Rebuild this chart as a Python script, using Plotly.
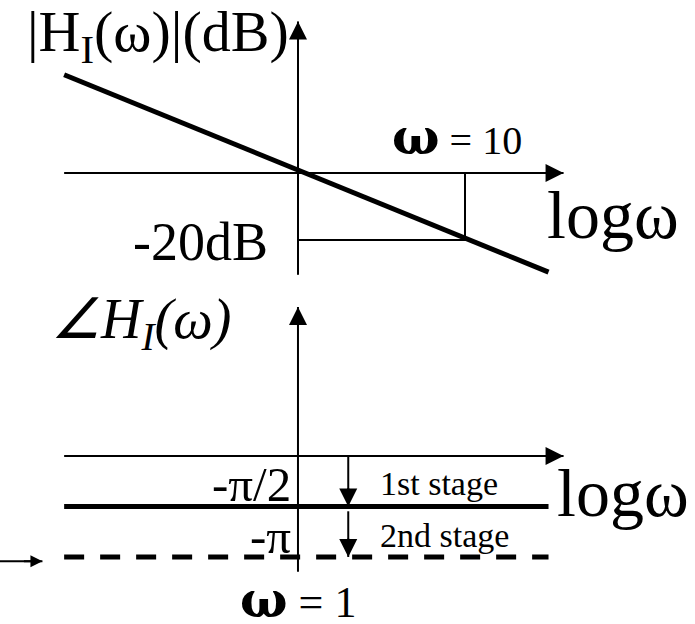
import numpy as np
import plotly.graph_objects as go

# Bode sketch of an ideal integrator H_I(w): log10(w) on the x axis
# top: magnitude in dB, bottom: phase in radians

# magnitude panel
mag_axis_logw = [-1.4, 1.59]        # horizontal axis, tip at the right
mag_axis_db = [-30.4, 45.2]         # vertical axis, tip at the top
mag_logw = [-1.4, 1.5]              # -20 dB/decade asymptote
mag_db = [29.3, -29.6]
box_logw = [0, 1, 1]                # w = 1 .. 10 drop of 20 dB
box_db = [-20, -20, 0]

# phase panel
ph_axis_logw = [-1.4, 1.59]
ph_axis_rad = [-3.6, 4.63]
ph_logw = [-1.4, 1.5]
ph_stage1 = [-np.pi / 2, -np.pi / 2]
ph_stage2 = [-np.pi, -np.pi]
step_logw = [0.301, 0.301]          # w = 2, where the stage arrows sit
step1_rad = [0, -np.pi / 2]
step2_rad = [-np.pi / 2 - 0.15, -np.pi]
side_logw = [-1.79, -1.53]          # little arrow at the left edge
side_rad = [-np.pi - 0.13, -np.pi - 0.13]

FONT = "Liberation Serif, Times New Roman, serif"
OMEGA = "DejaVu Serif"
INK = "black"

fig = go.Figure()


def line(x, y, yaxis="y", width=2, dash=None):
    fig.add_trace(
        go.Scatter(
            x=x,
            y=y,
            yaxis=yaxis,
            mode="lines",
            line=dict(color=INK, width=width, dash=dash),
            hoverinfo="skip",
            showlegend=False,
        )
    )


def head(x, y, yaxis="y", direction="right", size=1.8, width=2):
    # arrow head at the end point (x[-1], y[-1]); the short tail lies on the line itself
    ax, ay = {"right": (-20, 0), "up": (0, 20), "down": (0, -20)}[direction]
    fig.add_annotation(
        x=x[-1],
        y=y[-1],
        xref="x",
        yref=yaxis,
        ax=ax,
        ay=ay,
        text="",
        showarrow=True,
        arrowhead=2,
        arrowsize=size,
        arrowwidth=width,
        arrowcolor=INK,
    )


# ---- magnitude
line(mag_axis_logw, [0, 0])
head(mag_axis_logw, [0, 0])
line([0, 0], mag_axis_db)
head([0, 0], mag_axis_db, direction="up")
line(box_logw, box_db, width=2)
line(mag_logw, mag_db, width=5)

# ---- phase
line(ph_axis_logw, [0, 0], yaxis="y2")
head(ph_axis_logw, [0, 0], yaxis="y2")
line([0, 0], ph_axis_rad, yaxis="y2")
head([0, 0], ph_axis_rad, yaxis="y2", direction="up")
line(ph_logw, ph_stage1, yaxis="y2", width=5)
line(ph_logw, ph_stage2, yaxis="y2", width=5, dash="20px,16px")
line(step_logw, step1_rad, yaxis="y2", width=2)
head(step_logw, step1_rad, yaxis="y2", direction="down")
line(step_logw, step2_rad, yaxis="y2", width=2)
head(step_logw, step2_rad, yaxis="y2", direction="down")
line(side_logw, side_rad, yaxis="y2", width=2)
head(side_logw, side_rad, yaxis="y2", size=1.2)


def label(text, x, y, size, yref="y", xanchor="center", yanchor="middle"):
    fig.add_annotation(
        text=text,
        x=x,
        y=y,
        xref="x",
        yref=yref,
        xanchor=xanchor,
        yanchor=yanchor,
        showarrow=False,
        font=dict(family=FONT, size=size, color=INK),
    )


label("|H<sub>I</sub>(ω)|(dB)", -0.04, 41, 58, xanchor="right")
label(f"<span style='font-family:{OMEGA};font-size:50px'><b>ω</b></span> = 10", 0.95, 1.5, 40, yanchor="bottom")
label("logω", 1.48, -12.5, 68, xanchor="left")
label("-20dB", -0.17, -20.5, 54, xanchor="right")

label("<i>∠H<sub>I</sub>(ω)</i>", -1.49, 4.14, 56, yref="y2", xanchor="left")
label("-π/2", -0.03, -0.9, 49, yref="y2", xanchor="right")
label("-π", -0.03, -2.52, 49, yref="y2", xanchor="right")
label("1st stage", 0.48, -0.87, 34, yref="y2", xanchor="left")
label("2nd stage", 0.48, -2.46, 34, yref="y2", xanchor="left")
label("logω", 1.54, -1.15, 68, yref="y2", xanchor="left")
label(f"<span style='font-family:{OMEGA};font-size:50px'><b>ω</b></span> = 1", 0.0, -4.46, 44, yref="y2")

fig.update_layout(
    width=695,
    height=624,
    margin=dict(l=0, r=0, t=0, b=0),
    paper_bgcolor="white",
    plot_bgcolor="white",
    xaxis=dict(range=[-1.784, 2.377], visible=False, fixedrange=True),
    yaxis=dict(range=[-134.6, 51.6], visible=False, fixedrange=True),
    yaxis2=dict(range=[-5.226, 14.18], overlaying="y", visible=False, fixedrange=True),
    showlegend=False,
)

# the page's default body margin would push the drawing off the window
fig.write_html(
    "out.html",
    config={"displayModeBar": False},
    post_script="document.body.style.margin = '0';",
)
